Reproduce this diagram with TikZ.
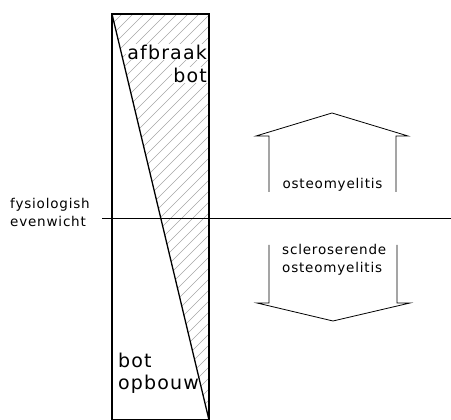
\documentclass[tikz,border=0pt]{standalone}
\usepackage{fontspec}
\setmainfont[LetterSpace=6]{DejaVu Sans}
\begin{document}
\begin{tikzpicture}[x=1pt, y=1pt, line join=miter,
    bigtxt/.style={font=\fontsize{19}{22}\selectfont, inner sep=1pt},
    smalltxt/.style={font=\fontsize{13.5}{18}\selectfont, inner sep=0pt, align=left},
    hatch/.style={gray!70, line width=0.5pt},
    frame/.style={line width=1.3pt},
    openarrow/.style={line width=0.8pt}]
  \useasboundingbox (0,0) rectangle (451,420);
  % column corners
  \coordinate (tl) at (112,406);
  \coordinate (tr) at (209,406);
  \coordinate (bl) at (112,0);
  \coordinate (br) at (209,0);
  % hatching of the bone breakdown part
  \begin{scope}
    \clip (tl) -- (tr) -- (br) -- cycle;
    \foreach \k in {0,...,50} {
      \draw[hatch] (100,{-100+11*\k}) -- ++(130,130);
    }
  \end{scope}
  \draw[frame] (tl) -- (tr) -- (br) -- (bl) -- cycle;
  \draw[frame] (tl) -- (br);
  % equilibrium line
  \coordinate (eqL) at (102,201);
  \coordinate (eqR) at (451,201);
  \draw[line width=1pt] (eqL) -- (eqR);
  \node[smalltxt, anchor=west] (evenwicht) at (10,207.5)
    {fysiologish\\evenwicht};
  % labels in the column
  \node[bigtxt, fill=white, anchor=east] (afbraak) at (208,368) {afbraak};
  \node[bigtxt, fill=white, anchor=east] (bot1) at (208,345) {bot};
  \node[bigtxt, anchor=west] (bot2) at (117,60) {bot};
  \node[bigtxt, anchor=west] (opbouw) at (117,36) {opbouw};
  % upward open arrow
  \draw[openarrow] (269,228) -- (269,284) -- (256,284) -- (332,307)
    -- (408,284) -- (396,284) -- (396,228);
  \node[smalltxt] (osteo) at (332.5,235) {osteomyelitis};
  % downward open arrow
  \draw[openarrow] (269,175) -- (269,117) -- (257,117) -- (333,99)
    -- (410,117) -- (397,117) -- (397,175);
  \node[smalltxt, anchor=north west] (sclero) at (282,176)
    {scleroserende\\osteomyelitis};
\end{tikzpicture}
\end{document}
